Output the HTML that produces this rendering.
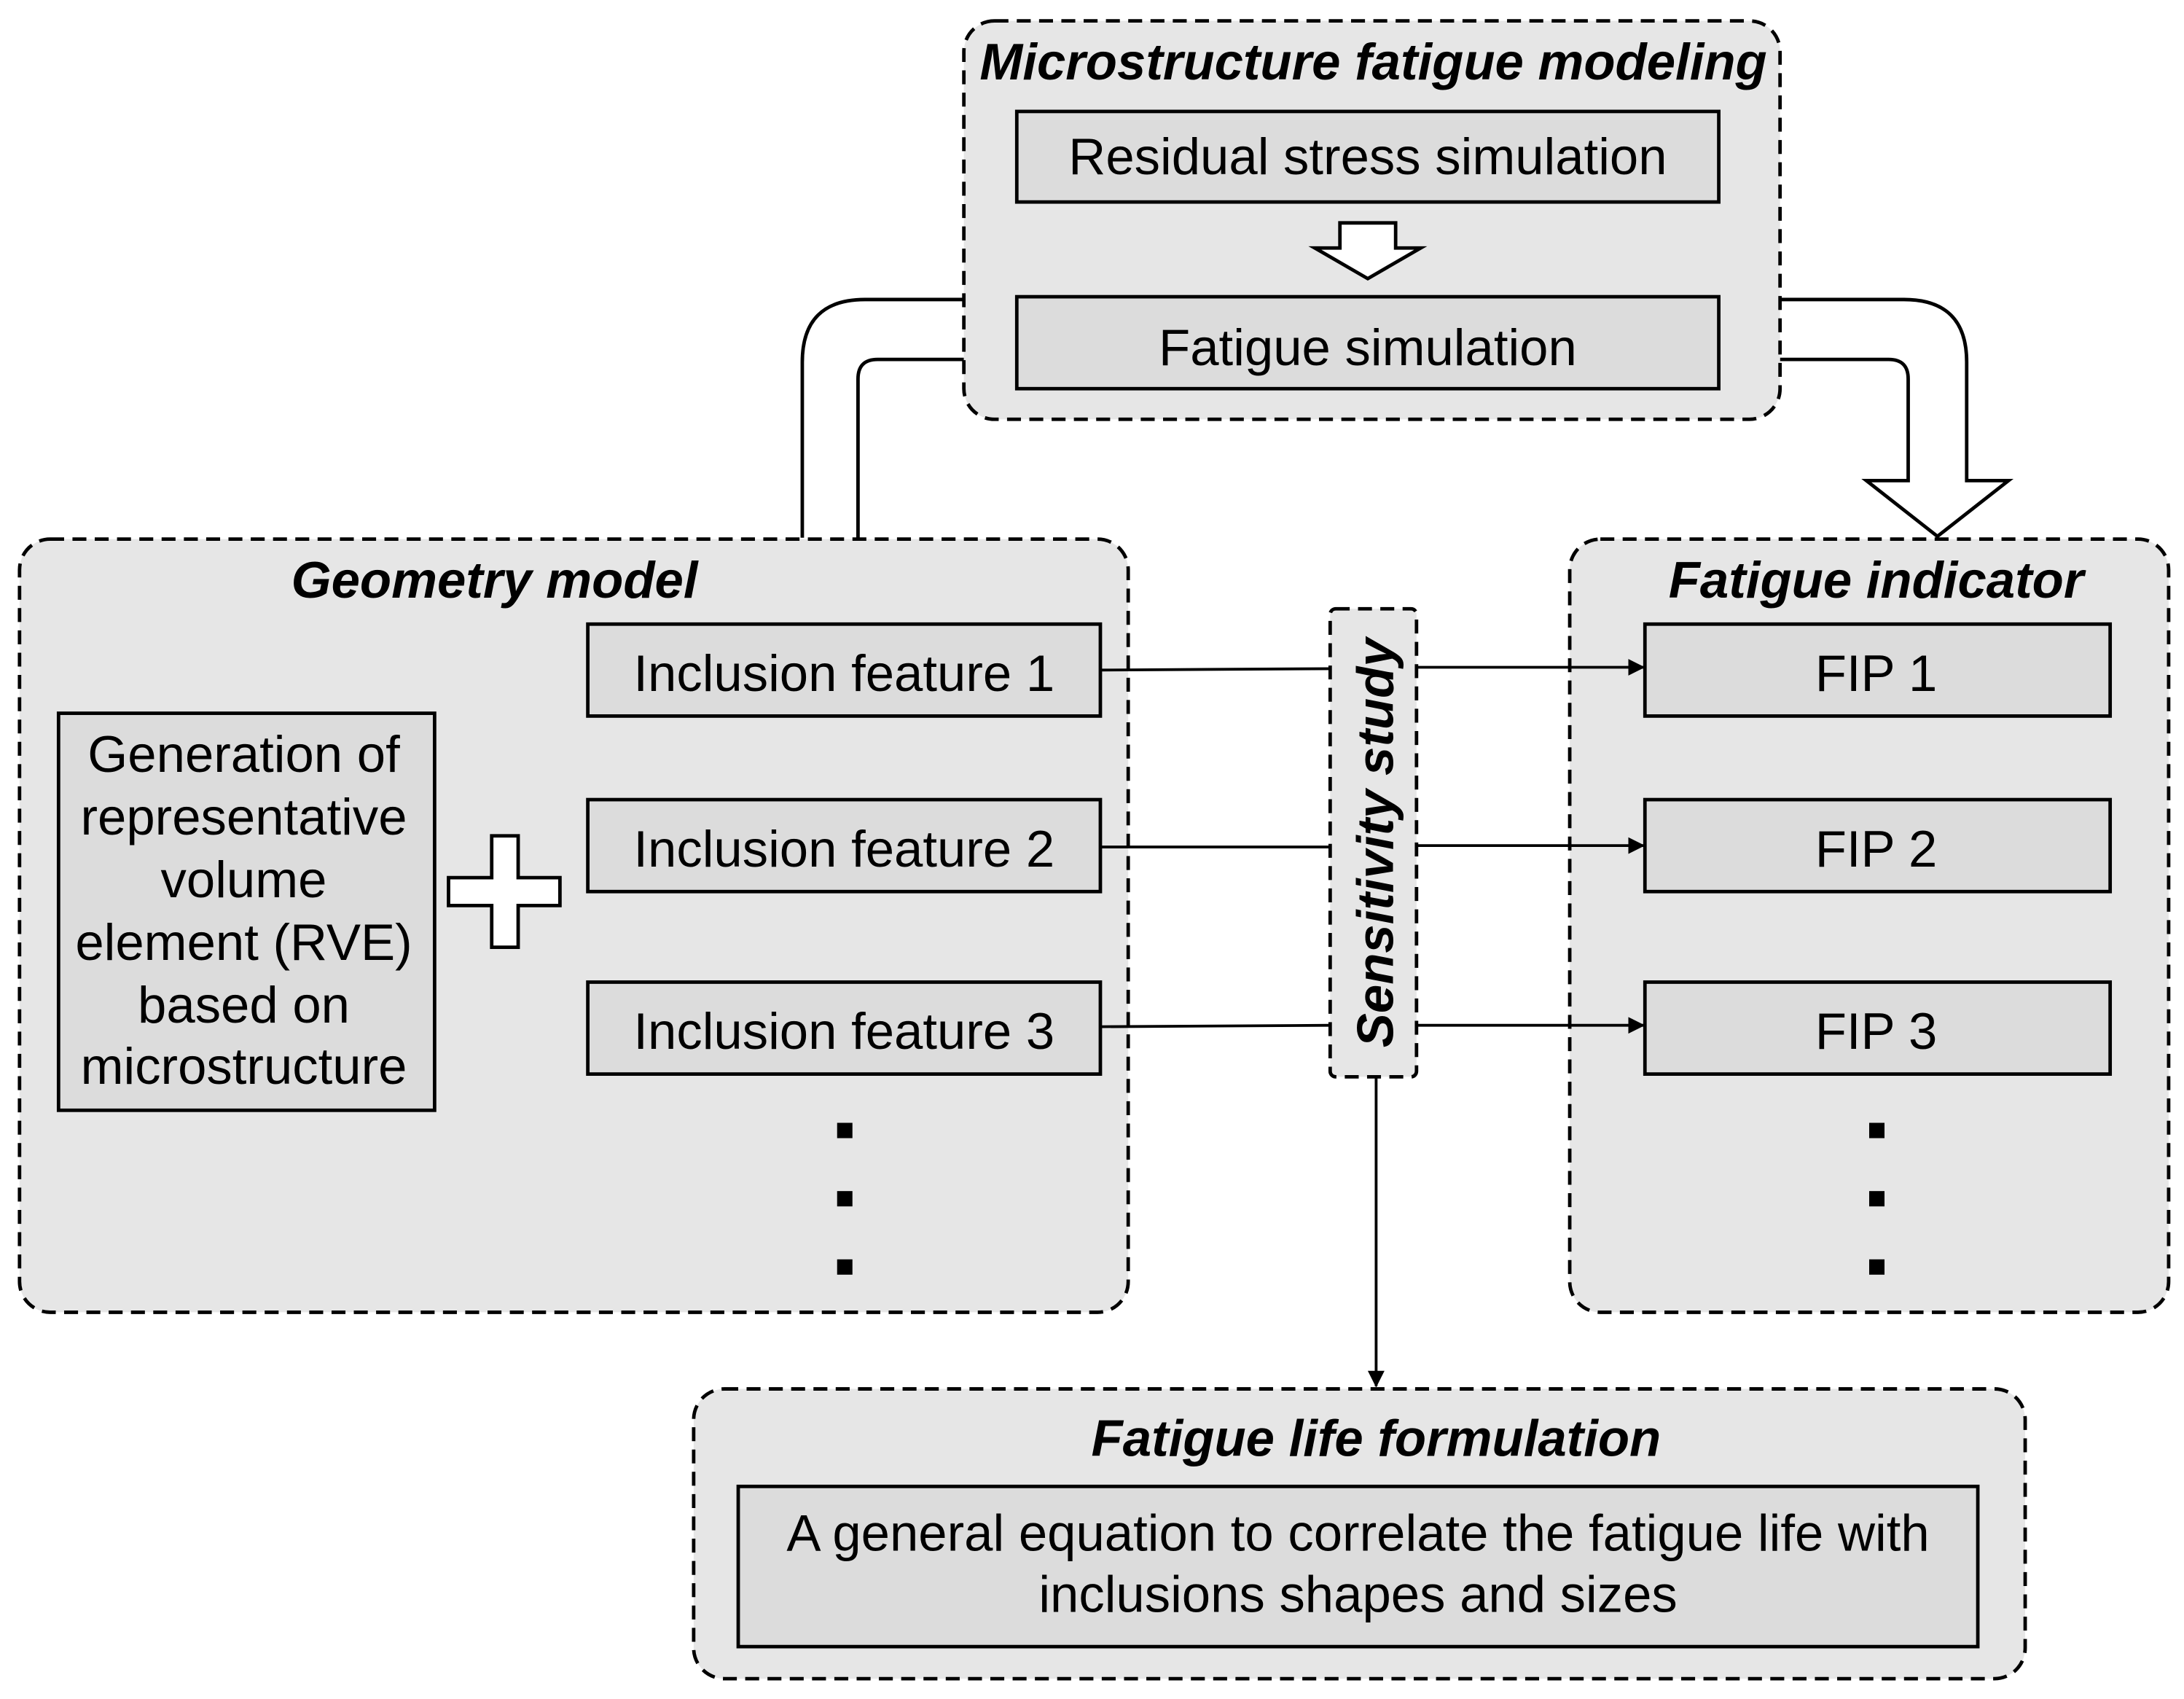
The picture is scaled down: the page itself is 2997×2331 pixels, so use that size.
<!DOCTYPE html>
<html><head><meta charset="utf-8"><style>
html,body{margin:0;padding:0;background:#fff;}
svg{display:block;}
text{font-family:"Liberation Sans",Arial,sans-serif;fill:#000;}
.t{font-size:37px;}
.h{font-size:37px;font-weight:bold;font-style:italic;}
</style></head><body>
<svg width="2997" height="2331" viewBox="0 0 1568 1219.6" xmlns="http://www.w3.org/2000/svg">
<defs>
<marker id="ar" markerWidth="12" markerHeight="12" refX="11" refY="6" orient="auto" markerUnits="userSpaceOnUse">
<path d="M0,0 L12,6 L0,12 Z" fill="#000"/></marker>
</defs>
<g stroke="#000" stroke-width="2.5" fill="none">
<path d="M576,386 L576,260 Q576,215 621,215 L692,215" />
<path d="M616,386 L616,272 Q616,258 630,258 L692,258" />
<path d="M1278,215 L1367,215 Q1412,215 1412,260 L1412,345 L1442,345 L1391,385 L1340,345 L1370,345 L1370,272 Q1370,258 1356,258 L1278,258" fill="#fff"/>
</g>
<g stroke="#000" stroke-width="2.5" stroke-dasharray="10,6" fill="#e6e6e6">
<rect x="692" y="15" width="586" height="286" rx="22"/>
<rect x="14" y="387" width="796" height="555" rx="22"/>
<rect x="1127" y="387" width="430" height="555" rx="22"/>
<rect x="498" y="997" width="956" height="208" rx="22"/>
<rect x="955" y="437" width="62" height="336" rx="4"/>
</g>
<g stroke="#000" stroke-width="2.5" fill="#dcdcdc">
<rect x="730" y="80" width="504" height="65"/>
<rect x="730" y="213" width="504" height="66"/>
<rect x="42" y="512" width="270" height="285"/>
<rect x="422" y="448" width="368" height="66"/>
<rect x="422" y="574" width="368" height="66"/>
<rect x="422" y="705" width="368" height="66"/>
<rect x="1181" y="448" width="334" height="66"/>
<rect x="1181" y="574" width="334" height="66"/>
<rect x="1181" y="705" width="334" height="66"/>
<rect x="530" y="1067" width="890" height="115"/>
<path d="M962,160 L1002,160 L1002,178 L1020,178 L982,200 L944,178 L962,178 Z" fill="#fff"/>
<path d="M353,600 L372,600 L372,630 L402,630 L402,650 L372,650 L372,680 L353,680 L353,650 L322,650 L322,630 L353,630 Z" fill="#fff"/>
</g>
<g stroke="#000" stroke-width="2">
<line x1="790" y1="481" x2="955" y2="480"/>
<line x1="790" y1="608" x2="955" y2="608"/>
<line x1="790" y1="737" x2="955" y2="736"/>
<line x1="1017" y1="479" x2="1180" y2="479" marker-end="url(#ar)"/>
<line x1="1017" y1="607" x2="1180" y2="607" marker-end="url(#ar)"/>
<line x1="1017" y1="736" x2="1180" y2="736" marker-end="url(#ar)"/>
<line x1="988" y1="773" x2="988" y2="995" marker-end="url(#ar)"/>
</g>
<g fill="#000">
<rect x="601" y="806" width="11" height="11"/><rect x="601" y="855" width="11" height="11"/><rect x="601" y="904" width="11" height="11"/>
<rect x="1342" y="806" width="11" height="11"/><rect x="1342" y="855" width="11" height="11"/><rect x="1342" y="904" width="11" height="11"/>
</g>
<g text-anchor="middle">
<text class="h" x="986" y="57">Microstructure fatigue modeling</text>
<text class="t" x="982" y="125">Residual stress simulation</text>
<text class="t" x="982" y="262">Fatigue simulation</text>
<text class="h" x="355" y="429">Geometry model</text>
<text class="h" x="1347" y="429">Fatigue indicator</text>
<text class="t" x="175" y="554">Generation of</text>
<text class="t" x="175" y="599">representative</text>
<text class="t" x="175" y="644">volume</text>
<text class="t" x="175" y="689">element (RVE)</text>
<text class="t" x="175" y="734">based on</text>
<text class="t" x="175" y="778">microstructure</text>
<text class="t" x="606" y="496">Inclusion feature 1</text>
<text class="t" x="606" y="622">Inclusion feature 2</text>
<text class="t" x="606" y="753">Inclusion feature 3</text>
<text class="t" x="1347" y="496">FIP 1</text>
<text class="t" x="1347" y="622">FIP 2</text>
<text class="t" x="1347" y="753">FIP 3</text>
<text class="h" x="0" y="0" transform="translate(1000,605) rotate(-90)">Sensitivity study</text>
<text class="h" x="988" y="1045">Fatigue life formulation</text>
<text class="t" x="975" y="1113">A general equation to correlate the fatigue life with</text>
<text class="t" x="975" y="1157">inclusions shapes and sizes</text>
</g>
</svg>
</body></html>
